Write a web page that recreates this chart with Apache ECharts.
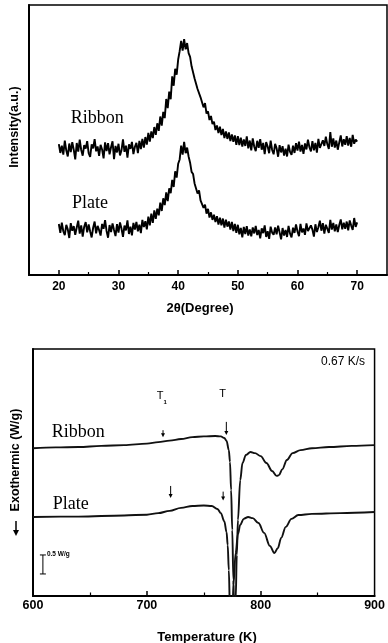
<!DOCTYPE html>
<html><head><meta charset="utf-8">
<script src="https://cdn.jsdelivr.net/npm/echarts@6/dist/echarts.min.js"></script>
<style>html,body{margin:0;padding:0;background:#fff}#c{width:388px;height:643px}</style>
</head><body><div id="c"></div>
<script>
// ---------- XRD (top) ----------
const xrdStart = 20, xrdStep = 0.25;   // 2theta sampling grid 20..70
const xrdRibbon = [
48.5,45.2,47.9,44.6, 49.8,46.1,43.9,48.7, 45.5,49.2,46.4,42.8, 48.9,45.7,50.1,46.3,
44.2,48.1,46.8,49.6, 45.1,43.7,48.4,46.9, 50.3,45.8,47.6,44.1, 48.2,46.5,43.2,49.1,
45.9,48.8,44.7,47.3, 49.5,42.9,47.8,45.4, 48.6,44.3,46.2,50.2, 45.6,47.9,43.5,48.4,
46.7,49.3,44.8,47.5, 48.9,45.1,49.7,46.6, 50.4,47.2,51.1,48.3, 52.6,49.4,53.2,50.7,
54.8,51.9,56.2,53.4, 58.7,55.3,60.4,58.1, 65.2,61.8,67.9,65.1, 73.6,70.1,76.4,74.2,
79.8,82.9,86.7,83.1, 87.4,83.6,85.9,82.2, 80.8,77.3,76.9,72.8, 73.1,68.9,69.4,65.8,
65.3,62.1,63.7,59.8, 60.6,57.4,58.9,55.9, 56.8,53.7,55.4,52.6, 54.9,51.8,54.1,50.7,
53.2,50.4,52.8,49.6, 52.1,49.3,51.7,48.2, 51.4,48.1,50.9,47.6, 50.2,47.8,51.3,46.9,
49.8,46.2,50.6,47.5, 45.9,49.7,47.1,50.3, 46.4,48.9,44.8,49.2, 47.6,45.1,49.8,46.3,
44.7,48.6,46.9,43.8, 48.1,45.4,47.7,44.2, 46.8,43.9,48.3,45.6, 44.5,47.9,45.2,48.8,
46.1,49.4,45.7,48.2, 44.9,48.7,46.5,50.1, 47.3,45.8,49.6,46.2, 48.9,45.3,50.4,47.1,
46.6,49.9,47.8,51.2, 48.4,46.7,52.9,47.5, 50.6,47.2,49.8,46.4, 49.1,51.7,47.6,50.3,
48.2,51.4,47.9,50.8, 47.5,51.9,48.6,50.2, 49.4
];
const xrdPlate = [
18.9,15.6,19.4,16.2, 14.8,18.6,16.9,13.7, 19.2,16.4,18.1,14.9, 17.6,20.1,15.3,18.4,
14.2,17.9,19.6,15.8, 18.7,16.1,13.9,17.5, 19.8,15.4,18.2,16.6, 14.6,18.9,17.1,20.3,
16.3,13.8,18.5,15.9, 19.1,16.7,14.4,18.8, 15.7,19.5,17.2,14.1, 18.3,16.5,20.2,15.2,
17.9,14.7,19.3,16.8, 19.7,16.2,18.6,15.5, 20.4,17.8,19.9,16.9, 21.6,18.4,22.7,19.3,
23.9,20.8,24.6,22.1, 26.8,23.7,28.4,25.9, 30.6,27.4,32.1,30.3, 35.2,32.6,38.4,36.1,
41.2,42.8,47.9,44.6, 49.3,45.1,47.2,43.9, 41.6,38.2,37.4,33.9, 34.1,30.2,31.3,27.6,
27.8,24.9,26.1,22.7, 24.5,21.3,23.2,20.4, 22.3,19.6,21.8,18.7, 21.2,18.4,20.9,17.6,
20.5,17.9,19.8,16.8, 19.7,16.3,18.9,15.6, 18.6,15.1,17.4,13.9, 17.8,15.2,18.1,14.6,
16.9,14.3,17.6,15.4, 18.2,14.8,16.7,13.6, 17.3,15.5,18.4,14.1, 16.2,13.4,17.9,15.7,
14.9,17.6,15.1,18.3, 15.8,13.2,17.4,14.6, 16.7,14.1,18.2,15.3, 13.9,17.5,15.6,18.7,
16.1,14.4,18.9,15.8, 17.2,14.9,19.1,16.3, 15.6,18.4,16.8,14.2, 18.8,15.9,17.7,20.1,
16.4,19.2,15.3,18.6, 17.9,15.6,20.4,16.8, 19.3,16.2,18.7,15.9, 18.5,20.6,16.9,19.4,
17.1,19.8,16.5,20.2, 18.3,16.7,21.1,17.8, 19.5
];
const xrdTicks = [20, 30, 40, 50, 60, 70];
const xrdMinorTicks = [25, 35, 45, 55, 65];
const xrdLabels = [{text: 'Ribbon', at: [22, 54.8]}, {text: 'Plate', at: [22.2, 23.3]}];

// ---------- DSC (bottom) ----------
const dscRibbon = [
[600,3.89],[620,3.91],[640,3.92],[660,3.95],[680,3.97],[700,4.01],[710,4.05],[720,4.09],
[730,4.13],[740,4.18],[750,4.20],[760,4.21],[765,4.20],[768,4.16],[770,4.08],[772,3.84],
[773,3.53],[774,2.79],[775,1.74],[776,0.42],[777,-0.76],[778,-0.10],[779,1.08],[780,2.00],
[782,3.05],[784,3.50],[787,3.71],[791,3.79],[795,3.76],[800,3.68],[805,3.50],[810,3.29],
[814,3.16],[816,3.18],[819,3.34],[823,3.58],[828,3.76],[835,3.84],[845,3.89],[860,3.92],
[880,3.95],[900,3.97]
];
const dscPlate = [
[600,2.08],[640,2.09],[680,2.12],[700,2.14],[710,2.18],[720,2.24],[730,2.32],[740,2.37],
[750,2.38],[757,2.37],[762,2.29],[765,2.18],[768,1.97],[770,1.68],[771,1.34],[772,0.68],
[773,-0.37],[774,-1.16],[775,-0.63],[776,0.29],[778,1.13],[780,1.63],[782,1.87],[785,2.03],
[789,2.08],[793,2.05],[798,1.92],[803,1.66],[808,1.32],[812,1.13],[815,1.26],[818,1.53],
[822,1.82],[827,2.03],[833,2.13],[845,2.16],[870,2.18],[900,2.21]
];
const dscTicks = [600, 700, 800, 900];
const dscMajorTicks = [700, 800];
const dscMinorTicks = [650, 750, 850];
const dscArrows = [[714.2,4.18],[769.8,4.24],[720.9,2.58],[767,2.51]];   // arrow tips
const dscArrowLen = [7, 13, 12, 9];
const dscTLabels = [{main: 'T', sub: '1', at: [711.7, 5.26]}, {main: 'T', sub: '', at: [766.5, 5.32]}];
const dscCurveLabels = [{text: 'Ribbon', at: [616.5, 4.06]}, {text: 'Plate', at: [617.4, 2.19]}];
const dscScaleBar = {x: 608.7, from: 0.58, to: 1.08, text: '0.5 W/g'};
const dscRate = '0.67 K/s';

const chart = echarts.init(document.getElementById('c'), null, {renderer: 'canvas'});
const black = '#111';
const tickFont = {fontFamily: 'Liberation Sans', fontWeight: 'bold', color: '#000'};

chart.setOption({
  animation: false,
  backgroundColor: '#fff',
  grid: [
    {left: 29, top: 5, width: 358, height: 270, show: true, borderColor: '#000', borderWidth: 1.5, backgroundColor: 'transparent'},
    {left: 33, top: 349, width: 345, height: 247, show: true, borderColor: '#000', borderWidth: 1.5, backgroundColor: 'transparent'}
  ],
  xAxis: [
    {gridIndex: 0, type: 'value', min: 15, max: 75, interval: 5, position: 'bottom',
     axisLine: {lineStyle: {color: '#000', width: 2}},
     axisTick: {inside: true, length: 5, lineStyle: {color: '#000', width: 1.5}, customValues: xrdTicks},
     axisLabel: {customValues: xrdTicks, margin: 6, fontSize: 12, ...tickFont},
     splitLine: {show: false}},
    {gridIndex: 0, type: 'value', min: 15, max: 75, position: 'bottom',
     axisLine: {show: false},
     axisTick: {inside: true, length: 3, lineStyle: {color: '#000', width: 1.2}, customValues: xrdMinorTicks},
     axisLabel: {show: false}, splitLine: {show: false}},
    {gridIndex: 1, type: 'value', min: 600, max: 900, interval: 50, position: 'bottom',
     axisLine: {lineStyle: {color: '#000', width: 2}},
     axisTick: {inside: true, length: 5, lineStyle: {color: '#000', width: 1.5}, customValues: dscMajorTicks},
     axisLabel: {customValues: dscTicks, margin: 3, fontSize: 12.5, ...tickFont},
     splitLine: {show: false}},
    {gridIndex: 1, type: 'value', min: 600, max: 900, position: 'bottom',
     axisLine: {show: false},
     axisTick: {inside: true, length: 3.5, lineStyle: {color: '#000', width: 1.2}, customValues: dscMinorTicks},
     axisLabel: {show: false}, splitLine: {show: false}}
  ],
  yAxis: [
    {gridIndex: 0, type: 'value', min: 0, max: 100,
     axisLine: {show: true, lineStyle: {color: '#000', width: 2}}, axisTick: {show: false},
     axisLabel: {show: false}, splitLine: {show: false}},
    {gridIndex: 1, type: 'value', min: 0, max: 6.5,
     axisLine: {show: true, lineStyle: {color: '#000', width: 2}}, axisTick: {show: false},
     axisLabel: {show: false}, splitLine: {show: false}}
  ],
  series: [
    {type: 'line', xAxisIndex: 0, yAxisIndex: 0, showSymbol: false, symbol: 'none',
     data: xrdRibbon.map((v, i) => [xrdStart + i * xrdStep, v]),
     lineStyle: {color: '#000', width: 1.9}},
    {type: 'line', xAxisIndex: 0, yAxisIndex: 0, showSymbol: false, symbol: 'none',
     data: xrdPlate.map((v, i) => [xrdStart + i * xrdStep, v]),
     lineStyle: {color: '#000', width: 1.9}},
    {type: 'line', xAxisIndex: 2, yAxisIndex: 1, showSymbol: false, symbol: 'none',
     smooth: 0.35, smoothMonotone: 'x', clip: true,
     data: dscRibbon, lineStyle: {color: black, width: 1.9}},
    {type: 'line', xAxisIndex: 2, yAxisIndex: 1, showSymbol: false, symbol: 'none',
     smooth: 0.35, smoothMonotone: 'x', clip: true,
     data: dscPlate, lineStyle: {color: black, width: 1.9}}
  ]
});

// ---------- annotations placed through the axes ----------
const g = [];
const px0 = p => chart.convertToPixel({xAxisIndex: 0, yAxisIndex: 0}, p);
const px1 = p => chart.convertToPixel({xAxisIndex: 2, yAxisIndex: 1}, p);
const serif = {fontFamily: 'Liberation Serif', fontSize: 18, fill: '#000'};

xrdLabels.forEach(l => {
  const [x, y] = px0(l.at);
  g.push({type: 'text', x, y, style: {text: l.text, ...serif, align: 'left', verticalAlign: 'bottom'}});
});
dscCurveLabels.forEach(l => {
  const [x, y] = px1(l.at);
  g.push({type: 'text', x, y, style: {text: l.text, ...serif, align: 'left', verticalAlign: 'bottom'}});
});
dscTLabels.forEach(l => {
  const [x, y] = px1(l.at);
  g.push({type: 'text', x, y, style: {text: l.main, fontFamily: 'Liberation Sans', fontSize: 11, fill: '#000', align: 'center', verticalAlign: 'middle'}});
  if (l.sub) g.push({type: 'text', x: x + 5, y: y + 6, style: {text: l.sub, fontFamily: 'Liberation Sans', fontSize: 6, fontWeight: 'bold', fill: '#000', align: 'center', verticalAlign: 'middle'}});
});
dscArrows.forEach((a, i) => {
  const [x, y] = px1(a);
  const L = dscArrowLen[i];
  g.push({type: 'line', shape: {x1: x, y1: y - L, x2: x, y2: y - 3}, style: {stroke: '#000', lineWidth: 1}});
  g.push({type: 'polygon', shape: {points: [[x - 2, y - 4], [x + 2, y - 4], [x, y]]}, style: {fill: '#000'}});
});
{
  const [x, y1] = px1([dscScaleBar.x, dscScaleBar.to]);
  const [, y2] = px1([dscScaleBar.x, dscScaleBar.from]);
  g.push({type: 'line', shape: {x1: x, y1: y1, x2: x, y2: y2}, style: {stroke: '#000', lineWidth: 1}});
  g.push({type: 'line', shape: {x1: x - 3, y1: y1, x2: x + 3, y2: y1}, style: {stroke: '#000', lineWidth: 1}});
  g.push({type: 'line', shape: {x1: x - 3, y1: y2, x2: x + 3, y2: y2}, style: {stroke: '#000', lineWidth: 1}});
  g.push({type: 'text', x: x + 4, y: y1 - 1, style: {text: dscScaleBar.text, fontFamily: 'Liberation Sans', fontWeight: 'bold', fontSize: 6.5, fill: '#000', align: 'left', verticalAlign: 'middle'}});
}
// texts
g.push({type: 'text', x: 365, y: 362, style: {text: dscRate, fontFamily: 'Liberation Sans', fontSize: 12, fill: '#000', align: 'right', verticalAlign: 'middle'}});
g.push({type: 'text', x: 15, y: 127, rotation: Math.PI / 2, style: {text: 'Intensity(a.u.)', fontFamily: 'Liberation Sans', fontWeight: 'bold', fontSize: 12.5, fill: '#000', align: 'center', verticalAlign: 'middle'}});
g.push({type: 'text', x: 200, y: 308, style: {text: '2θ(Degree)', fontFamily: 'Liberation Sans', fontWeight: 'bold', fontSize: 13, fill: '#000', align: 'center', verticalAlign: 'middle'}});
g.push({type: 'text', x: 16, y: 460, rotation: Math.PI / 2, style: {text: 'Exothermic (W/g)', fontFamily: 'Liberation Sans', fontWeight: 'bold', fontSize: 12.5, fill: '#000', align: 'center', verticalAlign: 'middle'}});
// arrow in front of the y title, pointing down
g.push({type: 'line', shape: {x1: 16, y1: 521, x2: 16, y2: 532}, style: {stroke: '#000', lineWidth: 1.5}});
g.push({type: 'polygon', shape: {points: [[13, 530], [19, 530], [16, 536]]}, style: {fill: '#000'}});
g.push({type: 'text', x: 207, y: 637, style: {text: 'Temperature (K)', fontFamily: 'Liberation Sans', fontWeight: 'bold', fontSize: 13, fill: '#000', align: 'center', verticalAlign: 'middle'}});

chart.setOption({graphic: g});
</script>
</body></html>
